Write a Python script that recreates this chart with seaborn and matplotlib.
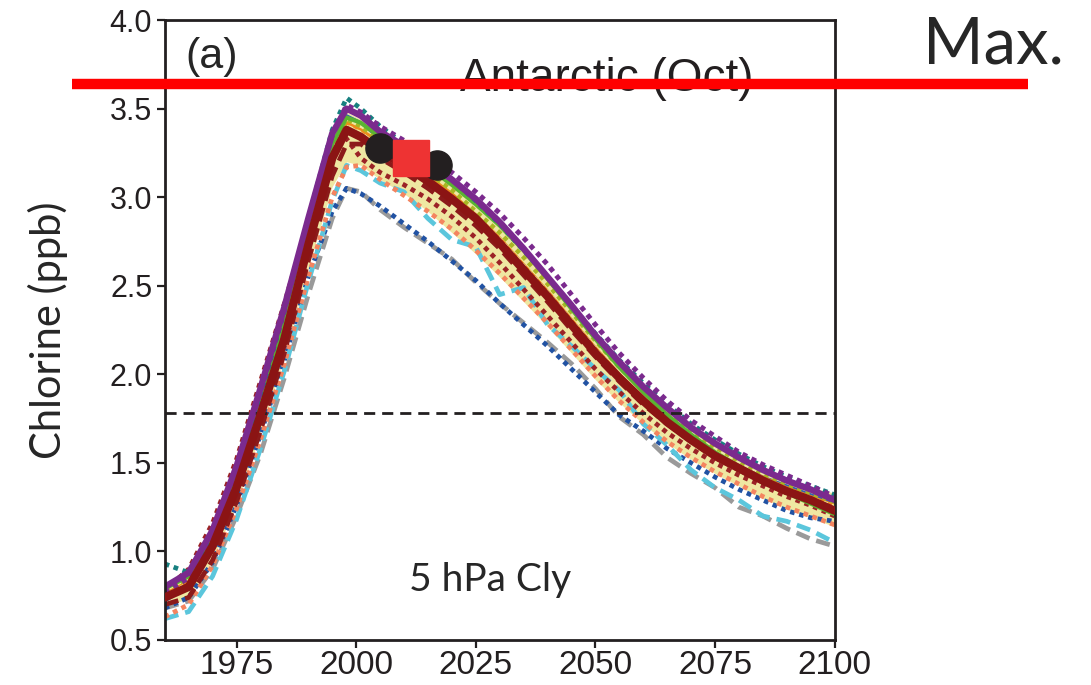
import matplotlib
matplotlib.use("Agg")
import matplotlib.pyplot as plt
from matplotlib.lines import Line2D
import seaborn as sns

# years of the model output
years = [1960, 1965, 1970, 1975, 1980, 1985, 1990, 1995, 1998, 2001,
         2005, 2010, 2015, 2020, 2025, 2030, 2035, 2040, 2045, 2050,
         2055, 2060, 2065, 2070, 2075, 2080, 2085, 2090, 2095, 2100]

# multi-model mean (thick dark red)
mmm = [0.74, 0.80, 1.03, 1.36, 1.77, 2.20, 2.73, 3.22, 3.38, 3.34,
       3.26, 3.18, 3.09, 2.99, 2.88, 2.74, 2.59, 2.44, 2.28, 2.12,
       1.98, 1.85, 1.73, 1.63, 1.54, 1.47, 1.40, 1.34, 1.29, 1.23]

# spread band (khaki)
band_lo = [0.68, 0.74, 0.95, 1.27, 1.67, 2.10, 2.60, 3.06, 3.20, 3.18,
           3.10, 3.02, 2.92, 2.80, 2.68, 2.55, 2.41, 2.27, 2.12, 1.97,
           1.84, 1.72, 1.61, 1.52, 1.44, 1.37, 1.30, 1.24, 1.19, 1.14]
band_hi = [0.80, 0.87, 1.11, 1.46, 1.88, 2.32, 2.85, 3.34, 3.48, 3.44,
           3.36, 3.28, 3.19, 3.09, 2.98, 2.85, 2.71, 2.55, 2.39, 2.23,
           2.08, 1.95, 1.83, 1.72, 1.63, 1.55, 1.48, 1.41, 1.36, 1.33]

# individual models
purple_solid = [0.80, 0.88, 1.12, 1.48, 1.92, 2.38, 2.88, 3.36, 3.50, 3.46,
                3.37, 3.29, 3.20, 3.10, 2.99, 2.86, 2.71, 2.55, 2.39, 2.22,
                2.07, 1.93, 1.81, 1.70, 1.61, 1.53, 1.46, 1.40, 1.35, 1.29]
purple_dot = [0.77, 0.85, 1.10, 1.46, 1.90, 2.36, 2.87, 3.35, 3.52, 3.48,
              3.40, 3.32, 3.23, 3.14, 3.03, 2.91, 2.77, 2.62, 2.45, 2.28,
              2.12, 1.98, 1.85, 1.74, 1.65, 1.56, 1.49, 1.43, 1.37, 1.31]
teal_dot = [0.93, 0.88, 1.08, 1.44, 1.88, 2.36, 2.88, 3.38, 3.56, 3.50,
            3.40, 3.30, 3.20, 3.10, 2.98, 2.85, 2.70, 2.55, 2.39, 2.23,
            2.08, 1.95, 1.83, 1.72, 1.63, 1.55, 1.48, 1.42, 1.37, 1.32]
green_solid = [0.79, 0.86, 1.08, 1.42, 1.85, 2.30, 2.82, 3.30, 3.45, 3.42,
               3.34, 3.26, 3.17, 3.07, 2.96, 2.84, 2.70, 2.54, 2.37, 2.20,
               2.04, 1.90, 1.77, 1.66, 1.56, 1.48, 1.40, 1.33, 1.27, 1.21]
olive_dot = [0.78, 0.85, 1.10, 1.45, 1.88, 2.33, 2.84, 3.30, 3.44, 3.40,
             3.32, 3.24, 3.14, 3.04, 2.92, 2.80, 2.66, 2.51, 2.35, 2.19,
             2.04, 1.91, 1.79, 1.68, 1.59, 1.51, 1.44, 1.38, 1.33, 1.28]
orange_solid = [0.76, 0.83, 1.06, 1.40, 1.82, 2.27, 2.79, 3.27, 3.42, 3.38,
                3.31, 3.22, 3.12, 3.02, 2.90, 2.77, 2.62, 2.47, 2.31, 2.15,
                2.00, 1.87, 1.75, 1.65, 1.56, 1.48, 1.42, 1.36, 1.31, 1.26]
blue_solid = [0.72, 0.80, 1.03, 1.38, 1.80, 2.25, 2.78, 3.28, 3.46, 3.42,
              3.33, 3.23, 3.12, 3.01, 2.89, 2.75, 2.60, 2.45, 2.29, 2.13,
              1.98, 1.85, 1.73, 1.63, 1.55, 1.48, 1.42, 1.37, 1.32, 1.27]
yellow_dot = [0.74, 0.82, 1.05, 1.40, 1.83, 2.28, 2.80, 3.27, 3.40, 3.36,
              3.27, 3.19, 3.10, 3.00, 2.89, 2.76, 2.61, 2.46, 2.30, 2.14,
              1.99, 1.86, 1.74, 1.64, 1.55, 1.48, 1.41, 1.35, 1.30, 1.25]
darkred_dot = [0.78, 0.90, 1.16, 1.52, 1.96, 2.40, 2.86, 3.25, 3.33, 3.22,
               3.14, 3.07, 2.99, 2.89, 2.77, 2.63, 2.48, 2.33, 2.18, 2.03,
               1.90, 1.78, 1.67, 1.58, 1.50, 1.43, 1.37, 1.31, 1.26, 1.20]
darkred_dash = [0.70, 0.74, 0.95, 1.28, 1.68, 2.12, 2.64, 3.12, 3.30, 3.30,
                3.22, 3.14, 3.05, 2.95, 2.84, 2.71, 2.56, 2.41, 2.25, 2.10,
                1.96, 1.83, 1.72, 1.62, 1.53, 1.46, 1.39, 1.33, 1.28, 1.22]
salmon_dot = [0.63, 0.70, 0.92, 1.24, 1.63, 2.06, 2.55, 3.00, 3.17, 3.18,
              3.10, 3.01, 2.92, 2.82, 2.70, 2.57, 2.43, 2.29, 2.14, 1.99,
              1.85, 1.73, 1.62, 1.53, 1.45, 1.38, 1.31, 1.25, 1.20, 1.15]
cyan_dash = [0.62, 0.66, 0.86, 1.18, 1.58, 2.02, 2.52, 2.98, 3.18, 3.15,
             3.08, 3.03, 2.88, 2.76, 2.72, 2.45, 2.49, 2.28, 2.16, 2.03,
             1.91, 1.72, 1.60, 1.46, 1.36, 1.29, 1.20, 1.17, 1.12, 1.05]
gray_dash = [0.68, 0.72, 0.90, 1.20, 1.55, 1.98, 2.45, 2.88, 3.05, 3.03,
             2.93, 2.83, 2.74, 2.65, 2.52, 2.40, 2.29, 2.18, 2.06, 1.92,
             1.76, 1.66, 1.53, 1.44, 1.36, 1.25, 1.20, 1.13, 1.07, 1.03]
blue_dot = [0.68, 0.74, 0.94, 1.26, 1.66, 2.08, 2.55, 2.92, 3.05, 3.02,
            2.95, 2.85, 2.75, 2.64, 2.53, 2.40, 2.28, 2.16, 2.03, 1.90,
            1.77, 1.68, 1.58, 1.50, 1.42, 1.35, 1.29, 1.23, 1.19, 1.17]

# observations
obs_years = [2005, 2011, 2017]
obs_vals = [3.28, 3.23, 3.18]
sq_year = [2011.5]
sq_val = [3.22]

ref_1980 = 1.78

sns.set_theme(style="ticks")
plt.rcParams['font.family'] = ['Liberation Sans', 'DejaVu Sans']

fig = plt.figure(figsize=(10.91, 6.85), dpi=100)
ax = fig.add_axes([0.151, 0.0657, 0.614, 0.905])

ax.fill_between(years, band_lo, band_hi, color='#efe7a2', lw=0, zorder=1)

dot = (0, (1, 1.0))
dash = (0, (3, 1.5))
lines = [
    (blue_solid, '#2a62b5', '-', 2.2),
    (orange_solid, '#f08a1c', '-', 2.2),
    (yellow_dot, '#f3eda0', dot, 3.2),
    (gray_dash, '#9a9a9a', dash, 3.4),
    (blue_dot, '#2152a3', dot, 3.4),
    (cyan_dash, '#5bc6dc', dash, 3.4),
    (salmon_dot, '#f4845f', dot, 3.4),
    (darkred_dot, '#9b2226', dot, 3.4),
    (darkred_dash, '#8b1a1a', dash, 3.4),
    (olive_dot, '#a9b623', dot, 3.2),
    (green_solid, '#5ab432', '-', 3.0),
    (teal_dot, '#178080', dot, 3.4),
    (purple_dot, '#7b2a8e', dot, 3.6),
    (purple_solid, '#7b2a8e', '-', 4.6),
]
for vals, col, ls, lw in lines:
    sns.lineplot(x=years, y=vals, ax=ax, color=col, linestyle=ls, lw=lw,
                 zorder=2)

sns.lineplot(x=years, y=mmm, ax=ax, color='#8b1414', lw=6.0, zorder=3)

ax.axhline(ref_1980, color='#231f20', lw=2.0, ls=(0, (4, 2.5)), zorder=2.5)

# observations: black circles and red square
ax.plot(obs_years, obs_vals, color='#231f20', lw=10, marker='o', ms=21,
        zorder=4, solid_capstyle='round')
ax.plot(sq_year, sq_val, ls='none', marker='s', ms=26, color='#ee3333',
        zorder=5)

ax.set_xlim(1960, 2100)
ax.set_ylim(0.5, 4.0)
ax.set_xticks([1975, 2000, 2025, 2050, 2075, 2100])
ax.set_yticks([0.5, 1.0, 1.5, 2.0, 2.5, 3.0, 3.5, 4.0])
ax.set_yticklabels(['0.5', '1.0', '1.5', '2.0', '2.5', '3.0', '3.5', '4.0'])
ax.tick_params(axis='x', labelsize=24, direction='out', length=6, width=1.6,
               colors='#231f20', pad=1)
ax.tick_params(axis='y', labelsize=22, direction='out', length=6, width=1.6,
               colors='#231f20', pad=3)
for sp in ax.spines.values():
    sp.set_linewidth(2.0)
    sp.set_color('#231f20')
ax.set_xlabel('')
ax.set_ylabel('Chlorine (ppb)', fontsize=30, family=['Lato', 'DejaVu Sans'],
              labelpad=30)

ax.text(0.07, 0.94, '(a)', transform=ax.transAxes, fontsize=31,
        ha='center', va='center')
ax.text(0.66, 0.905, 'Antarctic (Oct)', transform=ax.transAxes, fontsize=33,
        ha='center', va='center', color='#231f20')
ax.text(0.485, 0.097, '5 hPa Cly', transform=ax.transAxes, fontsize=28,
        ha='center', va='center', family=['Lato', 'DejaVu Sans'])

# red horizontal marker line and label over the whole figure
fig.add_artist(Line2D([0.066, 0.942], [0.877, 0.877], transform=fig.transFigure,
                      color='#ff0000', lw=7.5, zorder=10,
                      solid_capstyle='butt'))
fig.text(0.846, 0.934, 'Max.', fontsize=47, ha='left', va='center',
         family=['Lato', 'DejaVu Sans'])

fig.savefig('out.png', dpi=100)
